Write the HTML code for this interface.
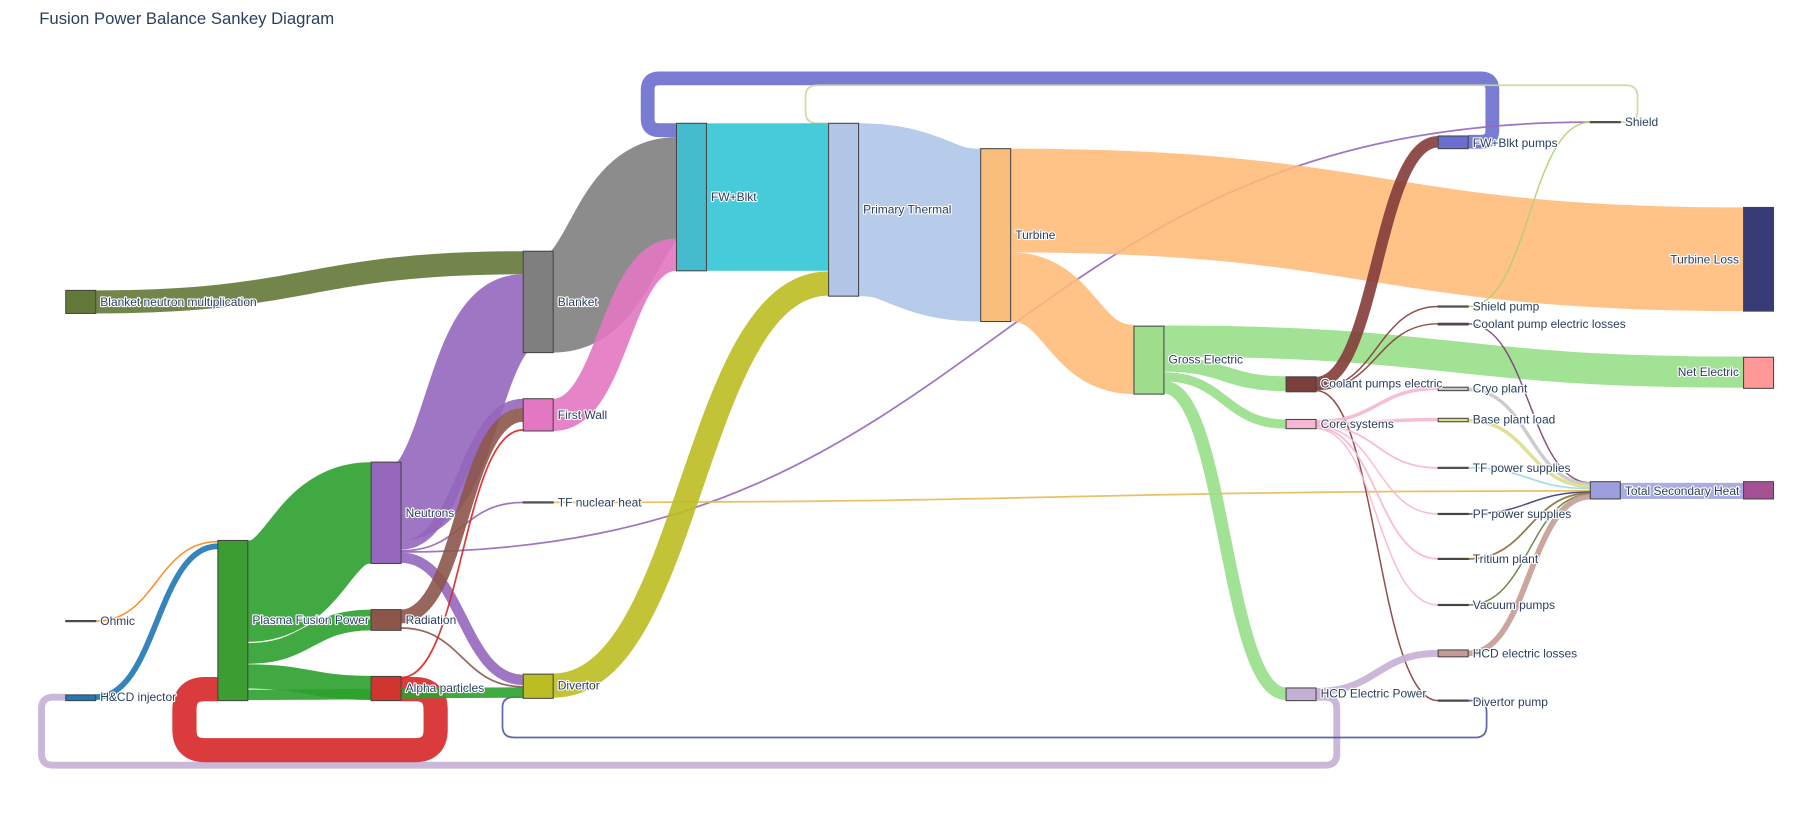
<!DOCTYPE html>
<html><head><meta charset="utf-8"><style>
html,body{margin:0;padding:0;background:#fff;}
svg{display:block}
text{font-family:"Liberation Sans",sans-serif;}
.l{font-size:10.4px;fill:#2a3f5f;paint-order:stroke;stroke:#fff;stroke-width:2px;stroke-linejoin:round;dominant-baseline:central}
.n{stroke:#444;stroke-width:0.9}
path{fill:none}
</style></head><body>
<svg width="1807" height="835" viewBox="0 0 1568 724.6" xmlns="http://www.w3.org/2000/svg">
<text x="34" y="21" style="font-size:14.5px;fill:#2a3f5f">Fusion Power Balance Sankey Diagram</text>
<g stroke-opacity="0.9">
<!-- loops -->
<path d="M1142,605 H1150 Q1160,605 1160,615 V654 Q1160,664 1150,664 H46 Q36,664 36,654 V615 Q36,605 46,605 H57" stroke="#c5b0d5" stroke-width="6"/>
<path d="M1274,123 H1285 Q1295,123 1295,113 V78 Q1295,68 1285,68 H572 Q562,68 562,78 V103 Q562,113 572,113 H587" stroke="#6b6ecf" stroke-width="12"/>
<path d="M1406,106 H1411 Q1421,106 1421,96 V84 Q1421,74 1411,74 H709 Q699,74 699,84 V97 Q699,107 709,107 H719" stroke="#c7d89b" stroke-width="1.5"/>
<path d="M1274,608 H1282 Q1290,608 1290,618 V630 Q1290,640 1280,640 H446 Q436,640 436,630 V614 Q436,605 446,605 H454" stroke="#5254a3" stroke-width="1.5"/>
<path d="M348,598 H360 Q378,598 378,616 V633 Q378,651 360,651 H178 Q160,651 160,633 V616 Q160,598 178,598 H189" stroke="#d62728" stroke-width="21"/>
<!-- col0 -->
<path d="M83,262 C268,262 268,228 454,228" stroke="#637939" stroke-width="20"/>
<path d="M83,539 C136,539 136,470 189,470" stroke="#ff7f0e" stroke-width="1.3"/>
<path d="M83,605 C136,605 136,474 189,474" stroke="#1f77b4" stroke-width="5"/>
<!-- plasma -->
<path d="M215,513 C268,513 268,445 322,445" stroke="#2ca02c" stroke-width="88"/>
<path d="M215,567 C268,567 268,538 322,538" stroke="#2ca02c" stroke-width="18"/>
<path d="M215,587 C268,587 268,597 322,597" stroke="#2ca02c" stroke-width="21"/>
<path d="M215,603 C334,603 334,601 454,601" stroke="#2ca02c" stroke-width="9"/>
<!-- neutrons -->
<path d="M348,435 C401,435 401,272 454,272" stroke="#9467bd" stroke-width="68"/>
<path d="M348,473 C401,473 401,350 454,350" stroke="#9467bd" stroke-width="8"/>
<path d="M348,478 C401,478 401,436 454,436" stroke="#9467bd" stroke-width="1.5"/>
<path d="M348,479 C864,479 864,106 1380,106" stroke="#9467bd" stroke-width="1.5"/>
<path d="M348,484 C401,484 401,590 454,590" stroke="#9467bd" stroke-width="9"/>
<!-- radiation / alpha -->
<path d="M348,535 C401,535 401,360 454,360" stroke="#8c564b" stroke-width="12"/>
<path d="M348,545 C401,545 401,596 454,596" stroke="#8c564b" stroke-width="1.5"/>
<path d="M348,588 C401,588 401,373 454,373" stroke="#d62728" stroke-width="1.5"/>
<!-- blanket, fw, tf, divertor -->
<path d="M480,262 C533,262 533,163 587,163" stroke="#7f7f7f" stroke-width="88"/>
<path d="M480,360 C533,360 533,221 587,221" stroke="#e377c2" stroke-width="28"/>
<path d="M480,436 C930,436 930,426 1380,426" stroke="#e7ba52" stroke-width="1.5"/>
<path d="M480,595 C600,595 600,246 719,246" stroke="#bcbd22" stroke-width="21"/>
<rect x="613" y="107" width="106" height="128" fill="#17becf" fill-opacity="0.8"/>
<path d="M745,182 C798,182 798,204 851,204" stroke="#aec7e8" stroke-width="150"/>
<path d="M877,174 C1195,174 1195,225 1513,225" stroke="#ffbb78" stroke-width="90" stroke-opacity="0.88"/>
<path d="M877,249 C930,249 930,312 984,312" stroke="#ffbb78" stroke-width="60" stroke-opacity="0.88"/>
<path d="M1010,296 C1261,296 1261,323 1513,323" stroke="#98df8a" stroke-width="27"/>
<path d="M1010,316 C1063,316 1063,333 1116,333" stroke="#98df8a" stroke-width="13"/>
<path d="M1010,327 C1063,327 1063,368 1116,368" stroke="#98df8a" stroke-width="8"/>
<path d="M1010,336 C1063,336 1063,602 1116,602" stroke="#98df8a" stroke-width="11"/>
<!-- coolant pumps electric -->
<path d="M1142,332 C1195,332 1195,123 1248,123" stroke="#843c39" stroke-width="10"/>
<path d="M1142,337 C1195,337 1195,266 1248,266" stroke="#843c39" stroke-width="1.3"/>
<path d="M1142,338 C1195,338 1195,281 1248,281" stroke="#843c39" stroke-width="1.3"/>
<path d="M1142,339 C1195,339 1195,608 1248,608" stroke="#843c39" stroke-width="1.3"/>
<!-- core systems -->
<g stroke="#f7b6d2">
<path d="M1142,366 C1195,366 1195,337 1248,337" stroke-width="3"/>
<path d="M1142,368 C1195,368 1195,364 1248,364" stroke-width="3"/>
<path d="M1142,369 C1195,369 1195,406 1248,406" stroke-width="1.6"/>
<path d="M1142,370 C1195,370 1195,446 1248,446" stroke-width="1.3"/>
<path d="M1142,371 C1195,371 1195,485 1248,485" stroke-width="1.6"/>
<path d="M1142,372 C1195,372 1195,525 1248,525" stroke-width="1.3"/>
</g>
<path d="M1142,600 C1195,600 1195,567 1248,567" stroke="#c5b0d5" stroke-width="6"/>
<path d="M1274,266 C1327,266 1327,106 1380,106" stroke="#b5cf6b" stroke-width="1.3"/>
<!-- to total secondary heat -->
<path d="M1274,281 C1327,281 1327,419 1380,419" stroke="#7b4173" stroke-width="1.3"/>
<path d="M1274,338 C1327,338 1327,420 1380,420" stroke="#c7c7c7" stroke-width="3"/>
<path d="M1274,365 C1327,365 1327,422 1380,422" stroke="#dbdb8d" stroke-width="3"/>
<path d="M1274,406 C1327,406 1327,424 1380,424" stroke="#9edae5" stroke-width="1.6"/>
<path d="M1274,446 C1327,446 1327,427 1380,427" stroke="#393b79" stroke-width="1.3"/>
<path d="M1274,485 C1327,485 1327,428 1380,428" stroke="#8c6d31" stroke-width="1.6"/>
<path d="M1274,525 C1327,525 1327,429 1380,429" stroke="#637939" stroke-width="1.3"/>
<path d="M1274,567 C1327,567 1327,431 1380,431" stroke="#c49c94" stroke-width="5"/>
<rect x="1406" y="419" width="107" height="14" fill="#9c9ede" fill-opacity="0.85"/>
</g>
<!-- nodes -->
<g class="n">
<rect x="57" y="252" width="26" height="20" fill="#637939"/>
<rect x="57" y="538.5" width="26" height="1" fill="#ff7f0e"/>
<rect x="57" y="603" width="26" height="5" fill="#1f77b4"/>
<rect x="189" y="469" width="26" height="139" fill="#3c9e32"/>
<rect x="322" y="401" width="26" height="88" fill="#9467bd"/>
<rect x="322" y="529" width="26" height="18" fill="#8c564b"/>
<rect x="322" y="587" width="26" height="21" fill="#d0352f"/>
<rect x="454" y="218" width="26" height="88" fill="#7f7f7f"/>
<rect x="454" y="346" width="26" height="28" fill="#e377c2"/>
<rect x="454" y="435.5" width="26" height="1" fill="#9edae5"/>
<rect x="454" y="585" width="26" height="21" fill="#bcbd22"/>
<rect x="587" y="107" width="26" height="128" fill="#45bccd"/>
<rect x="719" y="107" width="26" height="150" fill="#b3c6e7"/>
<rect x="851" y="129" width="26" height="150" fill="#f8bd7a"/>
<rect x="984" y="283" width="26" height="59" fill="#9fdd8c"/>
<rect x="1116" y="327" width="26" height="13" fill="#7b3f3c"/>
<rect x="1116" y="364" width="26" height="8" fill="#f7b6d2"/>
<rect x="1116" y="597" width="26" height="11" fill="#c5b0d5"/>
<rect x="1248" y="118" width="26" height="11" fill="#6b6ecf"/>
<rect x="1380" y="105.5" width="26" height="1" fill="#b5cf6b"/>
<rect x="1248" y="265.5" width="26" height="1" fill="#ccc"/>
<rect x="1248" y="280.5" width="26" height="1.5" fill="#7b4173"/>
<rect x="1248" y="336" width="26" height="3" fill="#c7c7c7"/>
<rect x="1248" y="363" width="26" height="3" fill="#dbdb8d"/>
<rect x="1248" y="405.5" width="26" height="1" fill="#9edae5"/>
<rect x="1248" y="445.5" width="26" height="1" fill="#393b79"/>
<rect x="1248" y="484.5" width="26" height="1" fill="#8c6d31"/>
<rect x="1248" y="524.5" width="26" height="1" fill="#637939"/>
<rect x="1248" y="564" width="26" height="6" fill="#c49c94"/>
<rect x="1248" y="607.5" width="26" height="1" fill="#5254a3"/>
<rect x="1380" y="418" width="26" height="15" fill="#9c9ede"/>
<rect x="1513" y="180" width="26" height="90" fill="#393b79"/>
<rect x="1513" y="310" width="26" height="27" fill="#ff9896"/>
<rect x="1513" y="418" width="26" height="15" fill="#a55194"/>
</g>
<!-- labels -->
<g class="l">
<text x="87" y="262">Blanket neutron multiplication</text>
<text x="87" y="539">Ohmic</text>
<text x="87" y="605">H&amp;CD injector</text>
<text x="219" y="538">Plasma Fusion Power</text>
<text x="352" y="445">Neutrons</text>
<text x="352" y="538">Radiation</text>
<text x="352" y="597">Alpha particles</text>
<text x="484" y="262">Blanket</text>
<text x="484" y="360">First Wall</text>
<text x="484" y="436">TF nuclear heat</text>
<text x="484" y="595">Divertor</text>
<text x="617" y="171">FW+Blkt</text>
<text x="749" y="182">Primary Thermal</text>
<text x="881" y="204">Turbine</text>
<text x="1014" y="312">Gross Electric</text>
<text x="1146" y="333">Coolant pumps electric</text>
<text x="1146" y="368">Core systems</text>
<text x="1146" y="602">HCD Electric Power</text>
<text x="1278" y="124">FW+Blkt pumps</text>
<text x="1410" y="106">Shield</text>
<text x="1278" y="266">Shield pump</text>
<text x="1278" y="281">Coolant pump electric losses</text>
<text x="1278" y="337">Cryo plant</text>
<text x="1278" y="364">Base plant load</text>
<text x="1278" y="406">TF power supplies</text>
<text x="1278" y="446">PF power supplies</text>
<text x="1278" y="485">Tritium plant</text>
<text x="1278" y="525">Vacuum pumps</text>
<text x="1278" y="567">HCD electric losses</text>
<text x="1278" y="609">Divertor pump</text>
<text x="1410" y="426">Total Secondary Heat</text>
<text x="1509" y="225" text-anchor="end">Turbine Loss</text>
<text x="1509" y="323" text-anchor="end">Net Electric</text>
</g>
</svg>
</body></html>
